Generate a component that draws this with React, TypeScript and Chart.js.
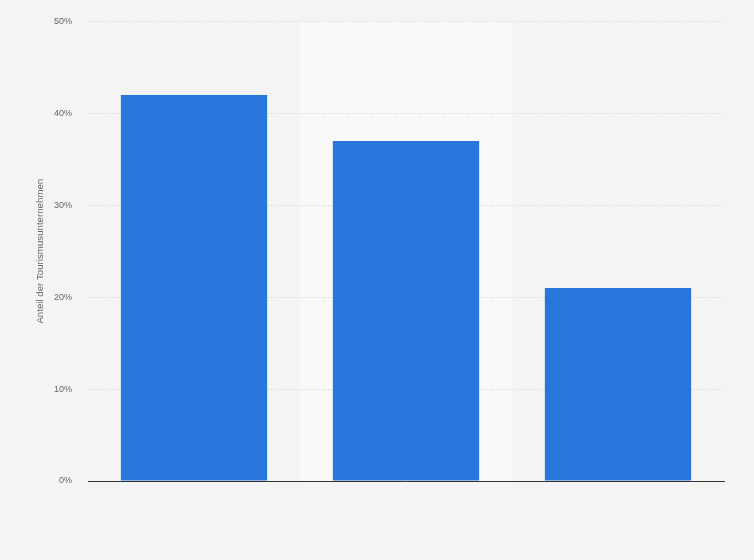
import React, { useEffect, useRef } from "react";
import { Chart, registerables } from "chart.js";

Chart.register(...registerables);

const categories = ["A", "B", "C"];
const values = [42, 37, 21];
const yTicks = [0, 10, 20, 30, 40, 50];
const yTitle = "Anteil der Tourismusunternehmen";

const bandPlugin = {
  id: "band",
  beforeDraw(chart: any) {
    const { ctx, chartArea, scales } = chart;
    ctx.save();
    ctx.fillStyle = "#f4f4f4";
    ctx.fillRect(0, 0, chart.width, chart.height);
    const x = scales.x;
    const w = (chartArea.right - chartArea.left) / categories.length;
    const cx = x.getPixelForValue(1);
    ctx.fillStyle = "#f9f9f9";
    ctx.fillRect(cx - w / 2, chartArea.top, w, chartArea.bottom - chartArea.top);
    ctx.restore();
  },
};

export default function App() {
  const ref = useRef<HTMLCanvasElement>(null);
  useEffect(() => {
    document.body.style.margin = "0";
    const chart = new Chart(ref.current!, {
      type: "bar",
      data: {
        labels: categories,
        datasets: [
          {
            data: values,
            backgroundColor: "#2776db",
            categoryPercentage: 1,
            barPercentage: 0.69,
          },
        ],
      },
      options: {
        animation: false,
        responsive: false,
        devicePixelRatio: 1,
        layout: { padding: { top: 18, right: 30, bottom: 79, left: 0 } },
        plugins: { legend: { display: false }, tooltip: { enabled: false } },
        scales: {
          x: {
            ticks: { display: false },
            grid: { display: false, drawTicks: false },
            border: { display: true, color: "#333333", width: 1 },
          },
          y: {
            min: 0,
            max: 50,
            afterFit: (s: any) => {
              s.width = 88;
            },
            afterBuildTicks: (s: any) => {
              s.ticks = yTicks.map((v) => ({ value: v }));
            },
            ticks: {
              padding: 16,
              color: "#666666",
              font: { family: "'Liberation Sans', Arial, sans-serif", size: 9 },
              callback: (v: any) => v + "%",
            },
            grid: {
              color: "#cfcfcf",
              drawTicks: false,
            },
            border: { display: false, dash: [1, 2] },
            title: {
              display: true,
              text: yTitle,
              color: "#666666",
              font: { family: "'Liberation Sans', Arial, sans-serif", size: 9.7 },
              padding: { top: 35, bottom: 0 },
            },
          },
        },
      },
      plugins: [bandPlugin],
    });
    return () => chart.destroy();
  }, []);
  return (
    <div style={{ position: "absolute", left: 0, top: 0, width: 754, height: 560 }}>
      <canvas ref={ref} width={754} height={560} style={{ width: 754, height: 560 }} />
    </div>
  );
}
